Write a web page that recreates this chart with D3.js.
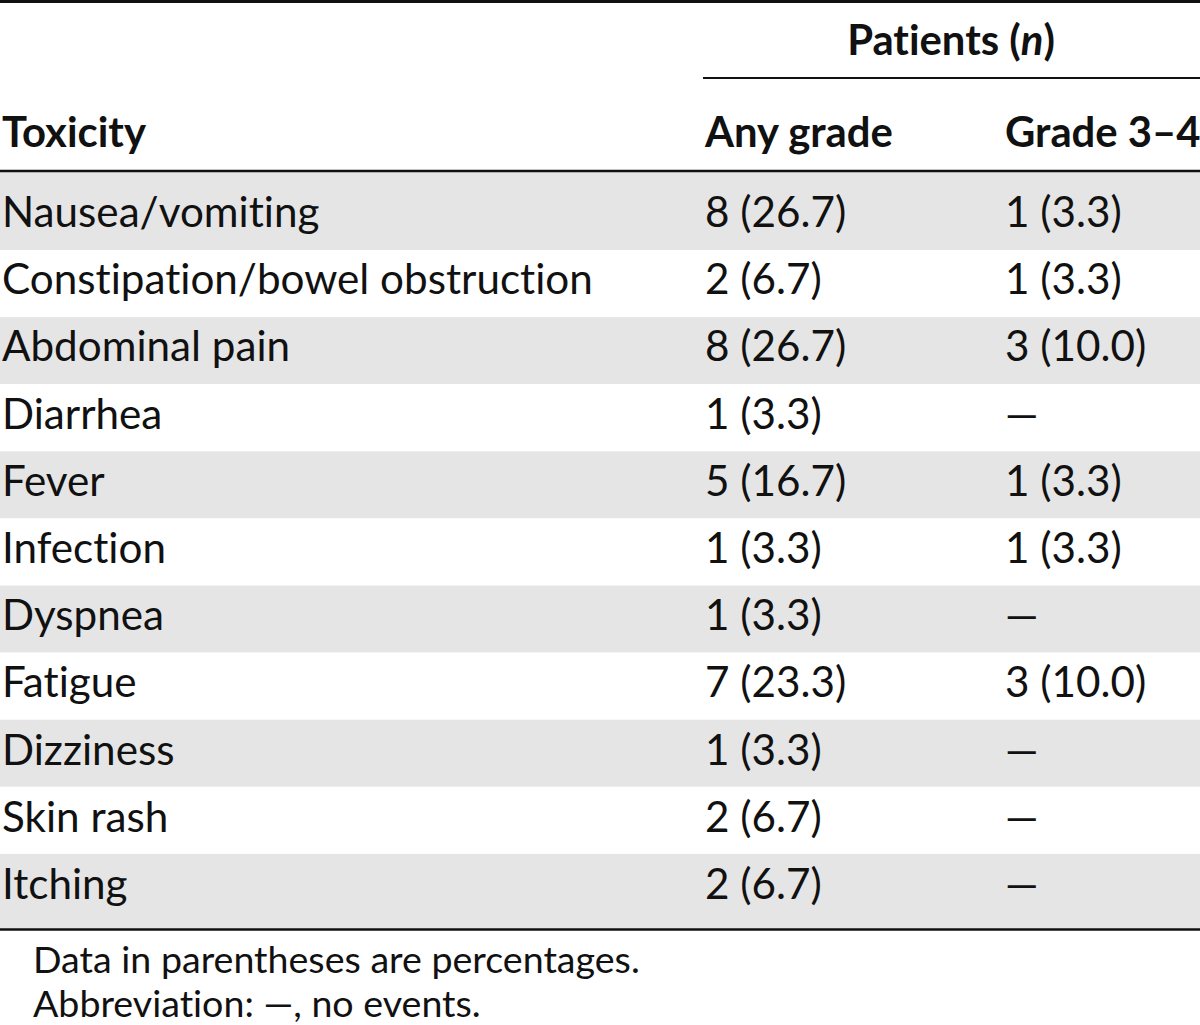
<!DOCTYPE html>
<html>
<head>
<meta charset="utf-8">
<script src="https://cdn.jsdelivr.net/npm/d3@7"></script>
<style>
  html, body { margin: 0; padding: 0; background: #fff; overflow: hidden; }
  svg { display: block; }
  text { font-variant-ligatures: none; font-feature-settings: "liga" 0, "clig" 0; }
</style>
</head>
<body>
<svg id="chart" width="1200" height="1025"></svg>
<script>
// ---- data ----
const columnHeaders = ["Toxicity", "Any grade", "Grade 3–4"];
const spanHeader = ["Patients (", "n", ")"];
const toxicities = ["Nausea/vomiting", "Constipation/bowel obstruction", "Abdominal pain", "Diarrhea",
  "Fever", "Infection", "Dyspnea", "Fatigue", "Dizziness", "Skin rash", "Itching"];
const anyGradeN = [8, 2, 8, 1, 5, 1, 1, 7, 1, 2, 2];
const anyGradePct = ["26.7", "6.7", "26.7", "3.3", "16.7", "3.3", "3.3", "23.3", "3.3", "6.7", "6.7"];
const grade34N = [1, 1, 3, null, 1, 1, null, 3, null, null, null];
const grade34Pct = ["3.3", "3.3", "10.0", null, "3.3", "3.3", null, "10.0", null, null, null];
const footnotes = ["Data in parentheses are percentages.", "Abbreviation: —, no events."];

// ---- layout ----
const FONT = "Lato, 'Open Sans', sans-serif";
const svg = d3.select("#chart");
const W = 1200;

// font size fitting via measurement
function fitSize(text, weight, targetW) {
  const t = svg.append("text").attr("font-family", FONT).attr("font-weight", weight)
    .attr("font-size", 100).text(text);
  const w = t.node().getComputedTextLength();
  t.remove();
  return 100 * targetW / w;
}
const bodySize = fitSize("Constipation/bowel obstruction", 400, 591);
const headSize = fitSize("Any grade", 700, 188);
const footSize = fitSize(footnotes[0], 400, 607);

const colX = [2, 705, 1005];
const rowY = d3.scaleLinear().domain([0, 1]).range([227, 227 + 67.2]);
const bounds = toxicities.map((d, i) => {
  const top = i === 0 ? 172 : 250 + (i - 1) * 67.1;
  const bot = i === toxicities.length - 1 ? 929 : 250 + i * 67.1;
  return { top, bot };
});

// shading
svg.append("g").selectAll("rect").data(toxicities).join("rect")
  .attr("x", 0).attr("width", W)
  .attr("y", (d, i) => bounds[i].top)
  .attr("height", (d, i) => bounds[i].bot - bounds[i].top)
  .attr("fill", (d, i) => i % 2 === 0 ? "#e5e5e5" : "#ffffff");

// rules
const lines = svg.append("g").attr("stroke", "#111");
lines.append("line").attr("x1", 0).attr("x2", W).attr("y1", 1.5).attr("y2", 1.5).attr("stroke-width", 3);
lines.append("line").attr("x1", 703).attr("x2", W).attr("y1", 78).attr("y2", 78).attr("stroke-width", 2.2);
lines.append("line").attr("x1", 0).attr("x2", W).attr("y1", 171).attr("y2", 171).attr("stroke-width", 2.6);
lines.append("line").attr("x1", 0).attr("x2", W).attr("y1", 929.5).attr("y2", 929.5).attr("stroke-width", 2.6);

// spanning header
const sp = svg.append("text").attr("font-family", FONT).attr("font-weight", 700)
  .attr("font-size", headSize).attr("fill", "#111")
  .attr("x", 951).attr("y", 55).attr("text-anchor", "middle");
sp.append("tspan").text(spanHeader[0]);
sp.append("tspan").attr("font-style", "italic").text(spanHeader[1]);
sp.append("tspan").text(spanHeader[2]);

// column headers
svg.append("g").selectAll("text").data(columnHeaders).join("text")
  .attr("font-family", FONT).attr("font-weight", 700).attr("font-size", headSize).attr("fill", "#111")
  .attr("x", (d, i) => colX[i]).attr("y", 147).text(d => d);

// body
const body = svg.append("g").attr("font-family", FONT).attr("font-size", bodySize).attr("fill", "#111");
body.selectAll("text.tox").data(toxicities).join("text").attr("class", "tox")
  .attr("x", colX[0]).attr("y", (d, i) => rowY(i)).text(d => d);
body.selectAll("text.any").data(anyGradeN).join("text").attr("class", "any")
  .attr("x", colX[1]).attr("y", (d, i) => rowY(i)).text((d, i) => `${d} (${anyGradePct[i]})`);
body.selectAll("text.g34").data(grade34N).join("text").attr("class", "g34")
  .attr("x", colX[2]).attr("y", (d, i) => rowY(i)).text((d, i) => d == null ? "—" : `${d} (${grade34Pct[i]})`);

// footnotes
svg.append("g").selectAll("text").data(footnotes).join("text")
  .attr("font-family", FONT).attr("font-size", footSize).attr("fill", "#111")
  .attr("x", 33).attr("y", (d, i) => 973 + i * 44).text(d => d);
</script>
</body>
</html>
